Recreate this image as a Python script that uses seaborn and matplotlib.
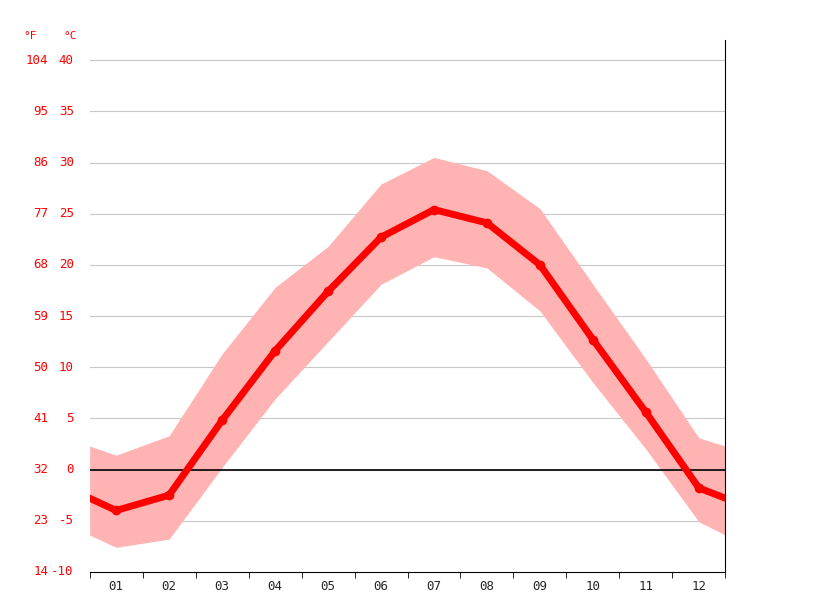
import matplotlib
matplotlib.use("Agg")
import matplotlib.pyplot as plt
import seaborn as sns
import numpy as np

# month positions (0.5 and 12.5 are the chart edges)
months = [0.5, 1, 2, 3, 4, 5, 6, 7, 8, 9, 10, 11, 12, 12.5]
avg_temp = [-2.8, -4.0, -2.5, 4.8, 11.6, 17.4, 22.7, 25.4, 24.1, 20.0, 12.7, 5.6, -1.8, -2.8]
max_temp = [2.3, 1.4, 3.3, 11.3, 17.8, 21.8, 27.9, 30.5, 29.2, 25.5, 18.1, 10.8, 3.1, 2.3]
min_temp = [-6.4, -7.6, -6.8, 0.2, 6.9, 12.5, 18.1, 20.8, 19.7, 15.5, 8.5, 2.0, -5.1, -6.4]
month_labels = ["01", "02", "03", "04", "05", "06", "07", "08", "09", "10", "11", "12"]
c_ticks = [-10, -5, 0, 5, 10, 15, 20, 25, 30, 35, 40]
f_labels = ["14", "23", "32", "41", "50", "59", "68", "77", "86", "95", "104"]

sns.set_style("white")
plt.rcParams['font.family'] = ['DejaVu Sans Mono']

fig = plt.figure(figsize=(8.15, 6.11), dpi=100)
ax = fig.add_axes([0.110, 0.064, 0.780, 0.871])

ax.fill_between(months, min_temp, max_temp, color="#ffb3b3", linewidth=0, zorder=1)
sns.lineplot(x=months[1:-1], y=avg_temp[1:-1], ax=ax, color="red", linewidth=5,
             marker="o", markersize=7, markeredgewidth=0, zorder=3)
ax.plot(months[:2], avg_temp[:2], color="red", linewidth=5, zorder=3)
ax.plot(months[-2:], avg_temp[-2:], color="red", linewidth=5, zorder=3)

for t in c_ticks[1:]:
    ax.axhline(t, color="#c8c8c8", linewidth=0.8, zorder=0)
ax.axhline(0, color="black", linewidth=1.2, zorder=2)

ax.set_xlim(0.5, 12.5)
ax.set_ylim(-10, 42)

ax.set_xticks(range(1, 13))
ax.set_xticklabels(month_labels, fontsize=9)
ax.set_xticks(np.arange(0.5, 13, 1), minor=True)
ax.tick_params(axis="x", which="major", length=0, pad=6)
ax.tick_params(axis="x", which="minor", length=4, color="black", bottom=True)
ax.set_yticks([])

for s in ["top", "left"]:
    ax.spines[s].set_visible(False)
ax.spines["right"].set_color("black")
ax.spines["bottom"].set_color("black")

trans = ax.get_yaxis_transform()
for c, f in zip(c_ticks, f_labels):
    ax.text(-0.025, c, str(c), transform=trans, ha="right", va="center", color="red", fontsize=9)
    ax.text(-0.065, c, f, transform=trans, ha="right", va="center", color="red", fontsize=9)
fig.text(70 / 815, 1 - 36 / 611, "°C", color="red", fontsize=8, ha="center", va="center")
fig.text(30 / 815, 1 - 36 / 611, "°F", color="red", fontsize=8, ha="center", va="center")

fig.savefig("out.png", dpi=100)
